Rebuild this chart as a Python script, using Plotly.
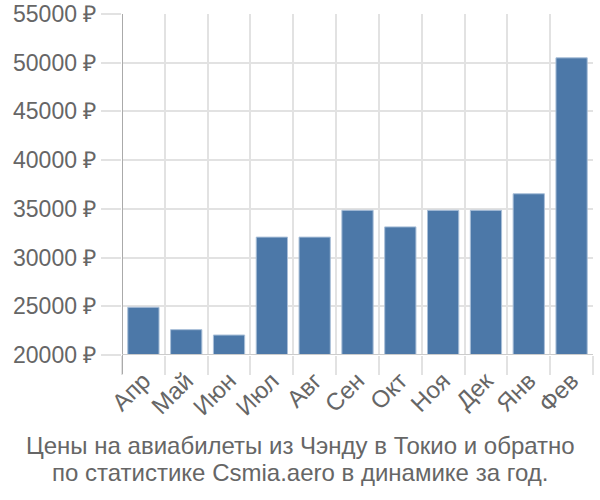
import plotly.graph_objects as go

months = ["Апр", "Май", "Июн", "Июл", "Авг", "Сен", "Окт", "Ноя", "Дек", "Янв", "Фев"]
prices = [24900, 22600, 22050, 32100, 32100, 34850, 33150, 34850, 34850, 36550, 50500]
y_ticks = [20000, 25000, 30000, 35000, 40000, 45000, 50000, 55000]
title_lines = ["Цены на авиабилеты из Чэнду в Токио и обратно",
               "по статистике Csmia.aero в динамике за год."]

FONT = "Liberation Sans, Arial, sans-serif"
GRID = "#e2e2e2"
TXT = "#666666"
TICK_SIZE = 23
XTICK_SIZE = 24
TITLE_SIZE = 24

fig = go.Figure()
fig.add_trace(go.Bar(
    x=months, y=[p - y_ticks[0] for p in prices], base=y_ticks[0],
    marker=dict(color="#4c78a8", line=dict(color="#a9bfd8", width=1)),
    hoverinfo="skip",
))
# invisible helper trace so the boundary-grid axis is drawn
fig.add_trace(go.Scatter(x=[0], y=[y_ticks[0]], xaxis="x2", mode="markers",
                         marker=dict(opacity=0), hoverinfo="skip"))

boundaries = [i - 0.5 for i in range(len(months) + 1)]

fig.update_layout(
    width=600, height=500,
    margin=dict(l=122, r=7, t=14, b=145),
    paper_bgcolor="white", plot_bgcolor="white",
    showlegend=False, bargap=0.27,
    font=dict(family=FONT, size=TICK_SIZE, color=TXT),
    xaxis=dict(
        tickangle=-45, showgrid=False, ticks="", showline=False, zeroline=False,
        ticklabelstandoff=6, automargin=False,
        tickfont=dict(family=FONT, size=XTICK_SIZE, color=TXT),
    ),
    xaxis2=dict(
        overlaying="x", side="bottom", range=[-0.5, len(months) - 0.5],
        tickmode="array", tickvals=boundaries, showticklabels=False,
        showgrid=True, gridcolor=GRID, gridwidth=2,
        ticks="outside", ticklen=19, tickcolor=GRID, tickwidth=2,
        showline=False, zeroline=False, automargin=False,
    ),
    yaxis=dict(
        range=[y_ticks[0], y_ticks[-1]],
        tickmode="array", tickvals=y_ticks,
        ticktext=[f"{v} ₽" for v in y_ticks],
        showgrid=True, gridcolor=GRID, gridwidth=2,
        ticks="outside", ticklen=20, tickcolor=GRID, tickwidth=2,
        showline=False, zeroline=False, automargin=False,
        tickfont=dict(family=FONT, size=TICK_SIZE, color=TXT),
    ),
)

# left axis line and bottom baseline
fig.add_shape(type="line", xref="x2", yref="paper", x0=-0.5, x1=-0.5, y0=-19/341, y1=1,
              line=dict(color="#aaaaaa", width=2), layer="above")
fig.add_shape(type="line", xref="paper", yref="y", x0=0, x1=1, y0=y_ticks[0], y1=y_ticks[0],
              line=dict(color="#cccccc", width=2), layer="above")

for i, (line, ypix) in enumerate(zip(title_lines, [445, 472])):
    fig.add_annotation(
        text=line, xref="paper", yref="paper",
        x=(300 - 122) / 471, y=-(ypix - 355) / 341, xanchor="center", yanchor="middle",
        showarrow=False, font=dict(family=FONT, size=TITLE_SIZE, color=TXT),
    )

fig.write_html("out.html")
